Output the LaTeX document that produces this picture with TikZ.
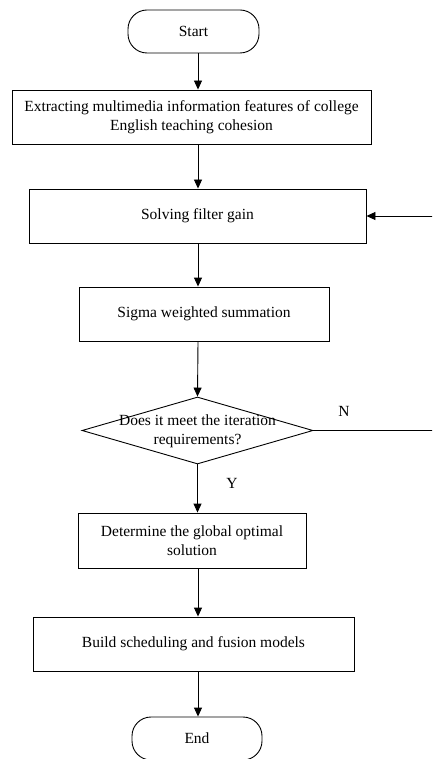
\documentclass[tikz,border=0pt]{standalone}
\usepackage{fontspec}
\setmainfont{Liberation Serif}
\usetikzlibrary{shapes.geometric,arrows.meta}

\begin{document}
\begin{tikzpicture}[x=1pt,y=-1pt,
  every node/.style={font=\fontsize{15.5}{19}\selectfont, text=black},
  flowline/.style={draw=black, line width=0.9pt},
  arrowline/.style={flowline, -{Triangle[length=9pt,width=8pt]}},
  terminal/.style={flowline, rectangle, rounded corners=19pt, minimum width=131pt, minimum height=43pt, inner sep=0pt},
  process/.style={flowline, rectangle, minimum height=54pt, inner sep=0pt, align=center},
  decision/.style={flowline, diamond, aspect=3.45, minimum width=231pt, minimum height=67pt, inner sep=0pt},
  tag/.style={inner sep=0pt}
]
\useasboundingbox (0,0) rectangle (432,759);
\clip (0,0) rectangle (432,759);
\fill[white] (0,0) rectangle (432,759);

% main column of the flow
\coordinate (spine) at (198,0);
% return path of the loop runs just past the right-hand border
\coordinate (loop) at (433,0);

\node[terminal] (start) at (193.5,31.5) {Start};
\node[process, minimum width=359pt] (extract) at (191.5,117) {Extracting multimedia information features of college\\English teaching cohesion};
\node[process, minimum width=337pt] (gain) at (197.5,216) {Solving filter gain};
\node[process, minimum width=250pt] (sigma) at (204,314) {Sigma weighted summation};
\node[decision] (check) at (197.5,430.5) {};
\node[align=center, inner sep=0pt] (checktext) at (197.5,431) {Does it meet the iteration\\requirements?};
\node[process, minimum width=228pt, minimum height=55pt] (optimal) at (192,540.5) {Determine the global optimal\\solution};
\node[process, minimum width=321pt] (model) at (193.5,644) {Build scheduling and fusion models};
\node[terminal, minimum width=130pt] (finish) at (197,738.5) {End};

% connectors
\draw[arrowline] (start.south -| spine) -- (extract.north -| spine);
\draw[arrowline] (extract.south -| spine) -- (gain.north -| spine);
\draw[arrowline] (gain.south -| spine) -- (sigma.north -| spine);
\draw[arrowline] (sigma.south -| spine) -- (check.north);
\draw[arrowline] (check.south) -- (optimal.north -| check.south);
\draw[arrowline] (optimal.south -| spine) -- (model.north -| spine);
\draw[arrowline] (model.south -| spine) -- (finish.north -| spine);

% loop back when the iteration is not finished
\draw[arrowline] (check.east) -- (check.east -| loop) -- (gain.east -| loop) -- (gain.east);

\node[tag] (no) at (344,411) {N};
\node[tag] (yes) at (232,483) {Y};
\end{tikzpicture}
\end{document}
